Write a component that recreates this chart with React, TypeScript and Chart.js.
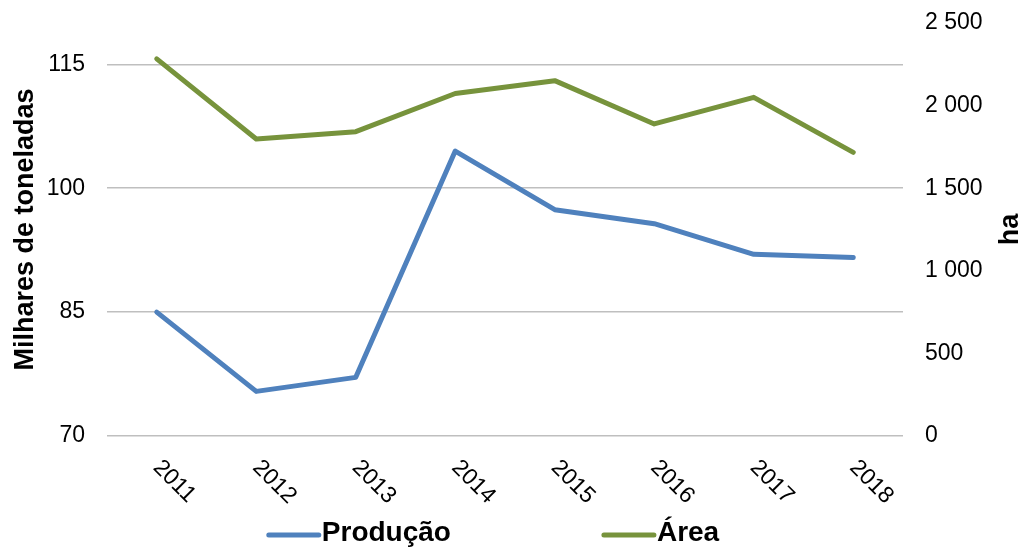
import React, { useEffect, useRef } from "react";
import { Chart, registerables } from "chart.js";

Chart.register(...registerables);

// Years on the category axis
const years = ["2011", "2012", "2013", "2014", "2015", "2016", "2017", "2018"];
// Production, thousands of tonnes (left axis)
const producao = [85.0, 75.4, 77.1, 104.5, 97.4, 95.7, 92.0, 91.6];
// Cultivated area, hectares (right axis)
const area = [2283, 1798, 1842, 2073, 2151, 1889, 2050, 1717];
// Tick values shown on the left axis
const leftTicks = [70, 85, 100, 115];

const FONT = '"Liberation Sans", Arial, Helvetica, sans-serif';
const BLUE = "#4F81BD";
const GREEN = "#77933C";

const groupThousands = (v: number) =>
  String(v).replace(/\B(?=(\d{3})+(?!\d))/g, " ");

// Draws the rotated year labels, the right-hand axis title and the legend
const overlay = {
  id: "overlay",
  afterDraw(chart: any) {
    const { ctx, chartArea, scales } = chart;
    const xs = scales.x;
    ctx.save();
    ctx.fillStyle = "#000";

    // year labels, slanted downwards to the right
    ctx.font = `23px ${FONT}`;
    ctx.textAlign = "left";
    ctx.textBaseline = "middle";
    years.forEach((lab, i) => {
      const px = xs.getPixelForTick(i);
      ctx.save();
      ctx.translate(px, chartArea.bottom + 28);
      ctx.rotate(Math.PI / 4);
      ctx.fillText(lab, 0, 0);
      ctx.restore();
    });

    // right axis title, reading upwards
    ctx.font = `bold 27px ${FONT}`;
    ctx.textAlign = "center";
    ctx.textBaseline = "middle";
    ctx.save();
    ctx.translate(1011, (chartArea.top + chartArea.bottom) / 2);
    ctx.rotate(-Math.PI / 2);
    ctx.fillText("ha", 0, 0);
    ctx.restore();

    // legend
    const swatch = 54;
    const gapText = 1;
    const gapItem = 151;
    ctx.font = `bold 28px ${FONT}`;
    const items = chart.data.datasets.map((d: any) => ({
      label: d.label,
      color: d.borderColor,
      w: ctx.measureText(d.label).width,
    }));
    const total =
      items.reduce((s: number, it: any) => s + swatch + gapText + it.w, 0) +
      gapItem * (items.length - 1);
    let cx = 493 - total / 2;
    const lineY = 535;
    ctx.textAlign = "left";
    ctx.textBaseline = "alphabetic";
    items.forEach((it: any) => {
      ctx.strokeStyle = it.color;
      ctx.lineWidth = 5;
      ctx.lineCap = "round";
      ctx.beginPath();
      ctx.moveTo(cx + 2, lineY);
      ctx.lineTo(cx + swatch - 2, lineY);
      ctx.stroke();
      ctx.fillStyle = "#000";
      ctx.fillText(it.label, cx + swatch + gapText, 541);
      cx += swatch + gapText + it.w + gapItem;
    });
    ctx.restore();
  },
};

export default function App() {
  const ref = useRef<HTMLCanvasElement | null>(null);

  useEffect(() => {
    if (!ref.current) return;
    const chart = new Chart(ref.current, {
      type: "line",
      data: {
        labels: years,
        datasets: [
          {
            label: "Produção",
            data: producao,
            yAxisID: "y",
            borderColor: BLUE,
            backgroundColor: BLUE,
            borderWidth: 5,
            borderCapStyle: "round",
            borderJoinStyle: "round",
            pointRadius: 0,
            tension: 0,
          },
          {
            label: "Área",
            data: area,
            yAxisID: "y1",
            borderColor: GREEN,
            backgroundColor: GREEN,
            borderWidth: 5,
            borderCapStyle: "round",
            borderJoinStyle: "round",
            pointRadius: 0,
            tension: 0,
          },
        ],
      },
      options: {
        responsive: false,
        animation: false,
        events: [],
        layout: { padding: { top: 23, left: 0, right: 0, bottom: 0 } },
        plugins: {
          legend: { display: false },
          tooltip: { enabled: false },
        },
        scales: {
          x: {
            type: "category",
            offset: true,
            grid: { display: false },
            border: { display: false },
            ticks: { display: false },
            afterFit: (s: any) => {
              s.height = 112;
            },
          },
          y: {
            type: "linear",
            position: "left",
            min: 70,
            max: 120,
            afterBuildTicks: (s: any) => {
              s.ticks = leftTicks.map((v) => ({ value: v }));
            },
            afterFit: (s: any) => {
              s.width = 107;
              s.paddingTop = 0;
              s.paddingBottom = 0;
            },
            grid: {
              color: "#BFBFBF",
              lineWidth: 1.5,
              drawTicks: false,
            },
            border: { display: false },
            ticks: {
              padding: 22,
              color: "#000",
              font: { family: FONT, size: 23 },
            },
            title: {
              display: true,
              text: "Milhares de toneladas",
              color: "#000",
              font: { family: FONT, size: 27, weight: "bold", lineHeight: 1.2 },
              padding: { top: 9, bottom: 0 },
            },
          },
          y1: {
            type: "linear",
            position: "right",
            min: 0,
            max: 2500,
            afterFit: (s: any) => {
              s.width = 118;
              s.paddingTop = 0;
              s.paddingBottom = 0;
            },
            grid: { display: false, drawTicks: false },
            border: { display: false },
            ticks: {
              stepSize: 500,
              padding: 22,
              color: "#000",
              font: { family: FONT, size: 23 },
              callback: (v: any) => groupThousands(Number(v)),
            },
          },
        },
      },
      plugins: [overlay],
    });
    return () => chart.destroy();
  }, []);

  return (
    <div
      style={{
        position: "fixed",
        left: 0,
        top: 0,
        width: 1021,
        height: 548,
        background: "#fff",
      }}
    >
      <canvas ref={ref} width={1021} height={548} style={{ display: "block" }} />
    </div>
  );
}
